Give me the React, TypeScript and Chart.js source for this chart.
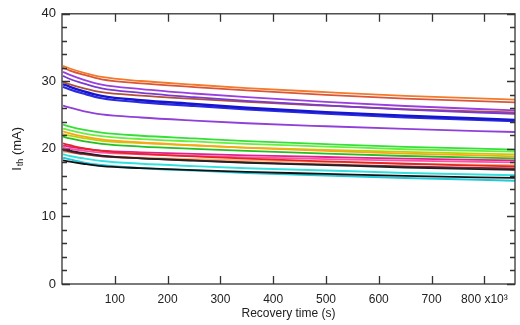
import React, { useEffect, useRef } from "react";
import { Chart, registerables } from "chart.js";

Chart.register(...registerables);

const xPoints = [2, 15, 40, 75, 150, 250, 350, 500, 650, 858];
const xTickValues = [100, 200, 300, 400, 500, 600, 700, 800];
const yTickValues = [0, 10, 20, 30, 40];

const seriesColors = [
  "#f27a2a", "#d9553a", "#9a3ee0", "#7a3ad0", "#b0503a", "#1515d0", "#2a2ae0", "#9040d8",
  "#33e033", "#66ee44", "#ffa31a", "#b8d400", "#22c022", "#e52525", "#e0208c", "#ff4fa8",
  "#222222", "#8a2040", "#ffb070", "#33e0e0", "#111111", "#20c8d8",
];
const seriesWidths = [
  1.8, 1.8, 1.8, 1.8, 1.8, 2.4, 2.2, 1.8,
  1.8, 1.8, 1.8, 1.8, 1.8, 1.8, 1.8, 1.8,
  1.8, 1.8, 1.8, 2.0, 1.8, 2.0,
];

const s01 = [32.3, 31.9, 31.3, 30.65, 30.05, 29.5, 29.0, 28.4, 27.85, 27.3];
const s02 = [32.0, 31.6, 31.0, 30.3, 29.7, 29.15, 28.65, 28.0, 27.45, 26.9];
const s03 = [31.4, 30.95, 30.25, 29.5, 28.85, 28.2, 27.65, 26.95, 26.35, 25.7];
const s04 = [30.8, 30.35, 29.7, 28.95, 28.3, 27.65, 27.1, 26.45, 25.8, 25.2];
const s05 = [29.9, 29.55, 29.0, 28.4, 27.9, 27.4, 26.95, 26.4, 25.9, 25.4];
const s06 = [29.6, 29.2, 28.55, 27.85, 27.2, 26.65, 26.1, 25.45, 24.9, 24.3];
const s07 = [29.2, 28.8, 28.2, 27.5, 26.9, 26.35, 25.85, 25.2, 24.65, 24.1];
const s08 = [26.4, 26.1, 25.6, 25.1, 24.65, 24.2, 23.8, 23.35, 22.95, 22.5];
const s09 = [23.6, 23.3, 22.85, 22.4, 21.95, 21.55, 21.15, 20.7, 20.3, 19.9];
const s10 = [23.0, 22.75, 22.3, 21.9, 21.45, 21.1, 20.75, 20.35, 19.95, 19.6];
const s11 = [22.6, 22.3, 21.85, 21.4, 20.95, 20.55, 20.15, 19.7, 19.3, 18.9];
const s12 = [22.2, 21.95, 21.6, 21.2, 20.85, 20.5, 20.2, 19.85, 19.55, 19.2];
const s13 = [21.8, 21.55, 21.15, 20.75, 20.35, 20.0, 19.7, 19.3, 18.95, 18.6];
const s14 = [20.8, 20.55, 20.1, 19.7, 19.25, 18.9, 18.55, 18.15, 17.8, 17.4];
const s15 = [20.5, 20.3, 20.05, 19.75, 19.5, 19.25, 19.05, 18.8, 18.55, 18.3];
const s16 = [20.2, 20.0, 19.75, 19.45, 19.2, 18.95, 18.75, 18.5, 18.25, 18.0];
const s17 = [20.0, 19.75, 19.4, 19.0, 18.6, 18.25, 17.95, 17.6, 17.25, 16.9];
const s18 = [19.8, 19.6, 19.25, 18.9, 18.6, 18.3, 18.0, 17.7, 17.4, 17.1];
const s19 = [19.6, 19.45, 19.2, 18.95, 18.7, 18.5, 18.3, 18.05, 17.8, 17.6];
const s20 = [19.2, 18.95, 18.6, 18.2, 17.8, 17.45, 17.15, 16.8, 16.45, 16.1];
const s21 = [18.3, 18.1, 17.8, 17.45, 17.15, 16.85, 16.6, 16.3, 16.0, 15.7];
const s22 = [18.7, 18.45, 18.0, 17.6, 17.15, 16.8, 16.45, 16.05, 15.7, 15.3];

const allSeries = [s01, s02, s03, s04, s05, s06, s07, s08, s09, s10, s11, s12, s13, s14, s15, s16, s17, s18, s19, s20, s21, s22];

const FONT = "'Liberation Sans', Arial, sans-serif";
const AXIS_COLOR = "#333333";

const framePlugin = {
  id: "frame",
  afterDraw(chart: any) {
    const { ctx, chartArea, scales } = chart;
    const { left, right, top, bottom } = chartArea;
    const xs = scales.x;
    const ys = scales.y;
    ctx.save();
    ctx.strokeStyle = AXIS_COLOR;
    ctx.lineWidth = 1.3;
    ctx.strokeRect(left, top, right - left, bottom - top);
    ctx.beginPath();
    for (const v of xTickValues) {
      const px = Math.round(xs.getPixelForValue(v)) + 0.5;
      ctx.moveTo(px, bottom);
      ctx.lineTo(px, bottom - 8);
      ctx.moveTo(px, top);
      ctx.lineTo(px, top + 8);
    }
    for (let v = 0; v <= 40; v += 2) {
      const py = Math.round(ys.getPixelForValue(v)) + 0.5;
      const len = v % 10 === 0 ? 8 : 5;
      ctx.moveTo(left, py);
      ctx.lineTo(left + len, py);
      ctx.moveTo(right, py);
      ctx.lineTo(right - len, py);
    }
    ctx.stroke();

    // y-axis title with subscript
    const cy = (top + bottom) / 2;
    ctx.translate(17, cy);
    ctx.rotate(-Math.PI / 2);
    ctx.fillStyle = "#222";
    ctx.textBaseline = "middle";
    ctx.textAlign = "left";
    const big = `13px ${FONT}`;
    const small = `9px ${FONT}`;
    ctx.font = big;
    const wI = ctx.measureText("I").width;
    const wRest = ctx.measureText(" (mA)").width;
    ctx.font = small;
    const wSub = ctx.measureText("th").width;
    let x0 = -(wI + wSub + wRest + 1) / 2;
    ctx.font = big;
    ctx.fillText("I", x0, 0);
    x0 += wI + 1;
    ctx.font = small;
    ctx.fillText("th", x0, 4);
    x0 += wSub;
    ctx.font = big;
    ctx.fillText(" (mA)", x0, 0);
    ctx.restore();
  },
};

export default function App() {
  const canvasRef = useRef<HTMLCanvasElement | null>(null);

  useEffect(() => {
    if (!canvasRef.current) return;
    const datasets = allSeries.map((s, i) => ({
      data: xPoints.map((x, j) => ({ x, y: s[j] })),
      borderColor: seriesColors[i],
      backgroundColor: seriesColors[i],
      borderWidth: seriesWidths[i],
      pointRadius: 0,
      fill: false,
      cubicInterpolationMode: "monotone" as const,
    }));
    const chart = new Chart(canvasRef.current, {
      type: "line",
      data: { datasets },
      options: {
        animation: false,
        responsive: false,
        maintainAspectRatio: false,
        layout: { padding: { top: 10, right: 5, left: 0, bottom: 0 } },
        plugins: { legend: { display: false }, tooltip: { enabled: false } },
        scales: {
          x: {
            type: "linear",
            min: 0,
            max: 858,
            grid: { display: false, drawTicks: false },
            border: { display: false },
            afterBuildTicks: (scale: any) => {
              scale.ticks = xTickValues.map((v) => ({ value: v }));
            },
            afterFit: (scale: any) => {
              scale.height = 41;
            },
            ticks: {
              padding: 8,
              color: "#222",
              font: { family: FONT, size: 12 },
              maxRotation: 0,
              autoSkip: false,
              callback: (v: any) => (v === 800 ? "800 x10\u00B3" : String(v)),
            },
            title: {
              display: true,
              text: "Recovery time (s)",
              color: "#222",
              font: { family: FONT, size: 12 },
              padding: { top: 0, bottom: 4 },
            },
          },
          y: {
            type: "linear",
            min: 0,
            max: 40,
            grid: { display: false, drawTicks: false },
            border: { display: false },
            afterBuildTicks: (scale: any) => {
              scale.ticks = yTickValues.map((v) => ({ value: v }));
            },
            afterFit: (scale: any) => {
              scale.width = 62;
            },
            ticks: {
              padding: 6,
              color: "#222",
              font: { family: FONT, size: 13 },
            },
          },
        },
      },
      plugins: [framePlugin],
    });
    return () => chart.destroy();
  }, []);

  return (
    <div style={{ position: "fixed", left: 0, top: 0, width: 520, height: 325, background: "#fff" }}>
      <canvas ref={canvasRef} width={520} height={325} style={{ width: 520, height: 325 }} />
    </div>
  );
}
